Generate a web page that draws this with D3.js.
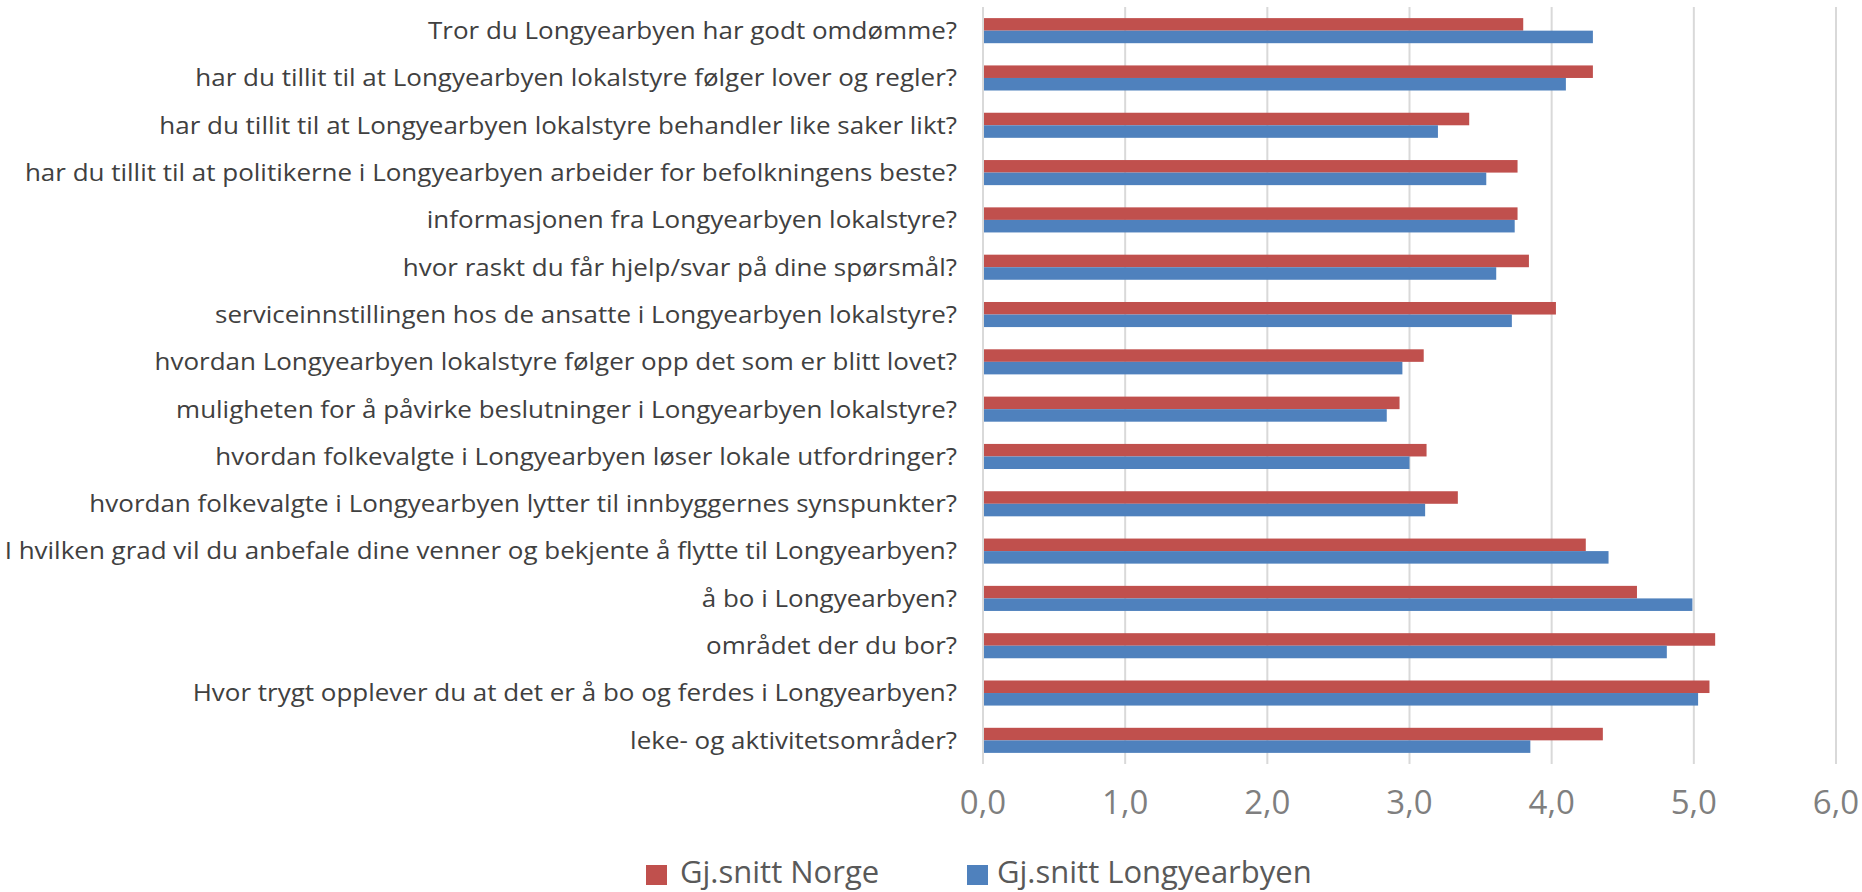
<!DOCTYPE html>
<html>
<head>
<meta charset="utf-8">
<script src="https://cdn.jsdelivr.net/npm/d3@7"></script>
<style>
  body { margin: 0; background: #ffffff; }
  svg { display: block; }
</style>
</head>
<body>
<div id="chart"></div>
<script>
var categories = [
  "Tror du Longyearbyen har godt omdømme?",
  "har du tillit til at Longyearbyen lokalstyre følger lover og regler?",
  "har du tillit til at Longyearbyen lokalstyre behandler like saker likt?",
  "har du tillit til at politikerne i Longyearbyen arbeider for befolkningens beste?",
  "informasjonen fra Longyearbyen lokalstyre?",
  "hvor raskt du får hjelp/svar på dine spørsmål?",
  "serviceinnstillingen hos de ansatte i Longyearbyen lokalstyre?",
  "hvordan Longyearbyen lokalstyre følger opp det som er blitt lovet?",
  "muligheten for å påvirke beslutninger i Longyearbyen lokalstyre?",
  "hvordan folkevalgte i Longyearbyen løser lokale utfordringer?",
  "hvordan folkevalgte i Longyearbyen lytter til innbyggernes synspunkter?",
  "I hvilken grad vil du anbefale dine venner og bekjente å flytte til Longyearbyen?",
  "å bo i Longyearbyen?",
  "området der du bor?",
  "Hvor trygt opplever du at det er å bo og ferdes i Longyearbyen?",
  "leke- og aktivitetsområder?"
];
var norge      = [3.80, 4.29, 3.42, 3.76, 3.76, 3.84, 4.03, 3.10, 2.93, 3.12, 3.34, 4.24, 4.60, 5.15, 5.11, 4.36];
var longyear   = [4.29, 4.10, 3.20, 3.54, 3.74, 3.61, 3.72, 2.95, 2.84, 3.00, 3.11, 4.40, 4.99, 4.81, 5.03, 3.85];
var seriesNames = ["Gj.snitt Norge", "Gj.snitt Longyearbyen"];
var seriesColors = ["#c0504d", "#4f81bd"];
var tickValues = [0, 1, 2, 3, 4, 5, 6];
var tickLabels = ["0,0", "1,0", "2,0", "3,0", "4,0", "5,0", "6,0"];

var width = 1862, height = 892;
var plotLeft = 983, plotRight = 1836, plotTop = 7, plotBottom = 764;

var svg = d3.select("#chart").append("svg").attr("width", width).attr("height", height);

var x = d3.scaleLinear().domain([0, 6]).range([plotLeft, plotRight]);
var y = d3.scaleBand().domain(categories).range([plotTop, plotBottom]).paddingInner(0.47).paddingOuter(0.235);
var ySub = d3.scaleBand().domain([0, 1]).range([0, y.bandwidth()]);

// grid lines
svg.append("g").selectAll("line").data(tickValues).enter().append("line")
  .attr("x1", function(d){ return x(d); }).attr("x2", function(d){ return x(d); })
  .attr("y1", plotTop).attr("y2", plotBottom)
  .style("stroke", "#d9d9d9").style("stroke-width", 2);

// bars
var rows = categories.map(function(c, i){ return {cat: c, vals: [norge[i], longyear[i]]}; });
var g = svg.append("g").selectAll("g").data(rows).enter().append("g")
  .attr("transform", function(d){ return "translate(0," + y(d.cat) + ")"; });
g.selectAll("rect").data(function(d){ return d.vals; }).enter().append("rect")
  .attr("x", x(0) + 1)
  .attr("y", function(d, j){ return ySub(j); })
  .attr("width", function(d){ return x(d) - x(0) - 1; })
  .attr("height", ySub.bandwidth())
  .style("fill", function(d, j){ return seriesColors[j]; });

// category labels (condensed to fit like the original)
var labG = svg.append("g");
var labs = labG.selectAll("text").data(categories).enter().append("text")
  .attr("x", 0)
  .attr("y", function(d){ return y(d) + y.bandwidth() / 2; })
  .attr("dy", "0.35em")
  .attr("text-anchor", "end")
  .style("font-family", "'Open Sans', sans-serif")
  .style("font-size", "24px")
  .style("fill", "#404040")
  .text(function(d){ return d; });
var maxW = 0;
labs.each(function(){ maxW = Math.max(maxW, this.getComputedTextLength()); });
var k = 953 / maxW;
labG.attr("transform", "translate(957,0) scale(" + k + ",1)");

// x tick labels
svg.append("g").selectAll("text").data(tickValues).enter().append("text")
  .attr("x", function(d){ return x(d); })
  .attr("y", 814)
  .attr("text-anchor", "middle")
  .style("font-family", "'Open Sans', sans-serif")
  .style("font-size", "33px")
  .style("fill", "#7f7f7f")
  .text(function(d, i){ return tickLabels[i]; });

// legend
var legX = [646, 967];
var leg = svg.append("g").selectAll("g").data(seriesNames).enter().append("g")
  .attr("transform", function(d, i){ return "translate(" + legX[i] + ",0)"; });
leg.append("rect").attr("x", 0).attr("y", 865).attr("width", 21).attr("height", 20)
  .style("fill", function(d, i){ return seriesColors[i]; });
leg.append("text").attr("x", function(d, i){ return i == 0 ? 34 : 30; }).attr("y", 883)
  .style("font-family", "'Open Sans', sans-serif")
  .style("font-size", "31px")
  .style("fill", "#595959")
  .text(function(d){ return d; });
</script>
</body>
</html>
